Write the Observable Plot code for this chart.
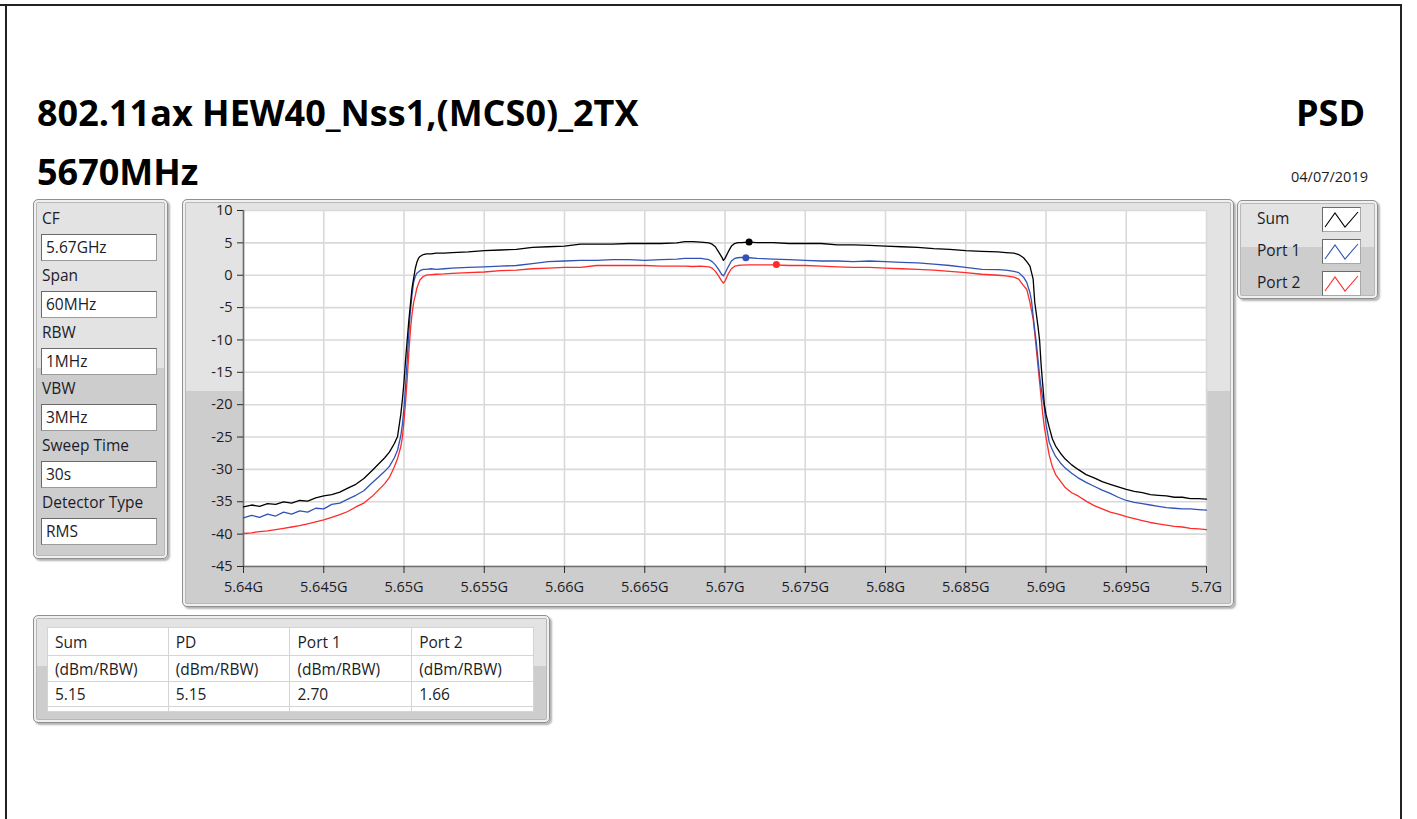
<!DOCTYPE html>
<html><head><meta charset="utf-8">
<script src="https://cdn.jsdelivr.net/npm/d3@7"></script>
<script src="https://cdn.jsdelivr.net/npm/@observablehq/plot@0.6"></script>
<style>
body{margin:0;background:#fff;font-family:"Open Sans",sans-serif;}
#page{position:relative;width:1417px;height:819px;overflow:hidden;background:#fff;}
.line{position:absolute;background:#222;}
.ttl{position:absolute;font-weight:700;font-size:36px;color:#000;line-height:1;white-space:nowrap;}
.panel{position:absolute;box-sizing:border-box;border:1px solid #8f8f8f;border-radius:5px;
 background:linear-gradient(to bottom,#e3e3e3 0,#e3e3e3 47%,#cdcdcd 47%,#cdcdcd 100%);
 box-shadow:2px 2px 2px rgba(0,0,0,0.30), inset 0 0 0 2px #f0f0f0, inset 0 0 0 3px #b8b8b8;}
.lbl{position:absolute;font-size:15.5px;color:#1c1c28;line-height:1;white-space:nowrap;}
.box{position:absolute;box-sizing:border-box;background:#fff;border:1px solid #9a9a9a;border-top-color:#6a6a6a;border-left-color:#6a6a6a;font-size:15.5px;color:#1c1c28;padding-left:4px;line-height:24px;white-space:nowrap;}
table{position:absolute;border-collapse:collapse;background:#fff;font-size:15.5px;color:#1c1c28;}
td{border:1px solid #d4d4d4;padding:0 0 0 7px;white-space:nowrap;}
</style></head>
<body><div id="page"></div>
<script>
// ---- data ----
const freqMHz = [5640,5640.5,5641,5641.5,5642,5642.5,5643,5643.5,5644,5644.5,5645,5645.5,5646,5646.5,5647,5647.5,5648,
 5648.4,5648.8,5649.1,5649.4,5649.6,5649.8,5649.9,
 5650.0,5650.1,5650.2,5650.3,5650.4,5650.5,5650.6,5650.7,5650.8,5650.9,
 5651.0,5651.2,5651.4,5651.7,5652.0,5652.5,
 5653,5654,5655,5656,5657,5658,5659,5660,5661,5662,5663,5664,5665,5666,5667,
 5667.5,5668,5668.5,5669,
 5669.2,5669.4,5669.6,5669.8,5669.9,
 5670.0,5670.2,5670.4,5670.6,5670.8,
 5671.0,5671.5,5672,
 5673,5674,5675,5676,5677,5678,5679,5680,5681,5682,5683,5684,5685,5686,5687,
 5687.5,5688,5688.3,5688.6,5688.8,
 5689.0,5689.1,5689.2,5689.3,5689.4,5689.5,5689.6,5689.7,5689.8,5689.9,
 5690.0,5690.2,5690.4,5690.6,5690.9,5691.2,5691.6,
 5692,5692.5,5693,5693.5,5694,5694.5,5695,5695.5,5696,5696.5,5697,5697.5,5698,5698.5,5699,5699.5,5700];
const sumDb = [-35.8,-35.5,-35.7,-35.3,-35.4,-35.0,-35.2,-34.8,-34.9,-34.4,-34.1,-33.9,-33.5,-32.9,-32.3,-31.4,-30.2,
 -29.2,-28.2,-27.3,-26.0,-24.9,-21.5,-19.2,
 -16.5,-13,-10,-7,-4.5,-2.0,-0.5,1.0,2.0,2.6,
 2.9,3.2,3.3,3.3,3.4,3.4,
 3.5,3.6,3.8,3.9,4.0,4.3,4.4,4.5,4.8,4.8,4.8,4.9,4.9,4.9,5.0,
 5.2,5.2,5.1,5.0,
 4.8,4.4,3.6,2.8,2.3,
 2.6,3.6,4.5,4.9,5.05,
 5.05,5.1,5.05,
 5.05,4.9,4.9,4.9,4.7,4.7,4.6,4.5,4.4,4.3,4.1,4.0,3.8,3.7,3.6,
 3.5,3.4,3.2,2.7,2.1,
 1.4,0.4,-0.6,-4.2,-6.0,-7.9,-10,-14,-17,-20,
 -21.5,-23.5,-25.3,-26.4,-27.5,-28.4,-29.3,
 -30.0,-30.8,-31.3,-31.9,-32.3,-32.7,-33.1,-33.4,-33.6,-33.9,-34.0,-34.1,-34.3,-34.3,-34.5,-34.5,-34.6];
const port1Db = [-37.5,-37.1,-37.4,-36.9,-37.2,-36.6,-36.9,-36.4,-36.6,-36.0,-36.1,-35.4,-35.2,-34.6,-34.0,-33.3,-32.1,
 -31.2,-30.3,-29.5,-28.2,-27.0,-24.8,-23.0,
 -20.5,-17,-13,-9,-5.5,-3,-1.1,-0.2,0.3,0.5,
 0.7,0.9,0.9,1.0,0.9,1.0,
 1.1,1.2,1.3,1.4,1.5,1.8,2.1,2.2,2.3,2.3,2.4,2.4,2.3,2.4,2.5,
 2.6,2.6,2.6,2.4,
 2.1,1.6,0.9,0.1,-0.1,
 0.3,1.3,2.2,2.6,2.7,
 2.75,2.7,2.6,
 2.5,2.4,2.3,2.2,2.2,2.1,2.2,2.1,2.0,1.9,1.7,1.5,1.2,0.9,0.85,
 0.8,0.6,0.4,-0.3,-1.1,
 -2.7,-4.0,-6.3,-8.5,-10.5,-13,-15.5,-17.5,-19.0,-20.5,
 -23.0,-25.8,-27.0,-28.0,-29.0,-29.8,-30.6,
 -31.3,-32.0,-32.6,-33.2,-33.7,-34.3,-34.8,-35.1,-35.3,-35.5,-35.7,-35.9,-36.0,-36.1,-36.1,-36.2,-36.3];
const port2Db = [-39.9,-39.8,-39.6,-39.5,-39.3,-39.1,-38.9,-38.7,-38.4,-38.1,-37.8,-37.4,-37.0,-36.5,-35.8,-35.2,-34.2,
 -33.2,-32.2,-31.2,-29.6,-28.3,-26.5,-25.0,
 -22.5,-19.5,-16,-12,-8.5,-6,-4.2,-3.2,-2.0,-1.3,
 -0.7,-0.2,0.0,0.1,0.15,0.2,
 0.3,0.4,0.5,0.7,0.8,1.0,1.1,1.2,1.2,1.5,1.5,1.5,1.5,1.4,1.4,
 1.4,1.35,1.4,1.3,
 1.1,0.6,-0.1,-0.9,-1.2,
 -0.9,0.2,1.0,1.4,1.5,
 1.55,1.6,1.6,
 1.6,1.5,1.5,1.4,1.3,1.2,1.2,1.1,1.0,0.9,0.8,0.6,0.4,0.15,0.0,
 -0.1,-0.3,-0.6,-1.6,-2.2,
 -4.2,-5.5,-6.8,-9,-11.5,-14,-16.5,-19,-21.5,-23.5,
 -25.0,-27.8,-29.6,-30.8,-31.8,-32.8,-33.6,
 -34.1,-34.9,-35.6,-36.1,-36.6,-36.9,-37.3,-37.6,-37.9,-38.2,-38.4,-38.6,-38.8,-38.9,-39.1,-39.2,-39.3];
const seriesNames = ["Sum","Port 1","Port 2"];
const seriesColors = ["#000000","#3153b6","#ff2a2a"];
const markerFreq = [5671.5,5671.3,5673.2];
const markerDb = [5.15,2.70,1.66];
const xTicks = [5640,5645,5650,5655,5660,5665,5670,5675,5680,5685,5690,5695,5700];
const xTickLabels = ["5.64G","5.645G","5.65G","5.655G","5.66G","5.665G","5.67G","5.675G","5.68G","5.685G","5.69G","5.695G","5.7G"];
const yTicks = [10,5,0,-5,-10,-15,-20,-25,-30,-35,-40,-45];
const paramLabels = ["CF","Span","RBW","VBW","Sweep Time","Detector Type"];
const paramValues = ["5.67GHz","60MHz","1MHz","3MHz","30s","RMS"];
const tableHeaders = ["Sum","PD","Port 1","Port 2"];
const tableUnits = ["(dBm/RBW)","(dBm/RBW)","(dBm/RBW)","(dBm/RBW)"];
const tableValues = ["5.15","5.15","2.70","1.66"];
const titleLine1 = "802.11ax HEW40_Nss1,(MCS0)_2TX";
const titleLine2 = "5670MHz";
const rightTitle = "PSD";
const dateText = "04/07/2019";

// ---- page ----
const page = document.getElementById("page");
function el(tag, cls, style, html){const e=document.createElement(tag); if(cls) e.className=cls; if(style) e.style.cssText=style; if(html!=null) e.innerHTML=html; page.appendChild(e); return e;}
el("div","line","left:0;top:4px;width:1402px;height:2px;");
el("div","line","left:5px;top:4px;width:2px;height:815px;");
el("div","line","left:1400px;top:4px;width:2px;height:815px;");
el("div","ttl","left:37px;top:95px;",titleLine1);
el("div","ttl","left:37px;top:154px;",titleLine2);
el("div","ttl","left:1296px;top:95px;",rightTitle);
el("div","lbl","left:1291px;top:170px;font-size:14.5px;",dateText);

// left parameter panel
el("div","panel","left:33px;top:199px;width:135px;height:360px;");
paramLabels.forEach((l,i)=>{
  const y = 199 + 20 + i*56.8;
  el("div","lbl",`left:42px;top:${y-8}px;`,l);
  el("div","box",`left:41px;top:${y+15}px;width:116px;height:27px;`,paramValues[i]);
});

// chart panel
el("div","panel","left:182px;top:199px;width:1052px;height:408px;");
const rows = [];
freqMHz.forEach((f,i)=>{ rows.push({f, v: port2Db[i], s: "Port 2"}); });
freqMHz.forEach((f,i)=>{ rows.push({f, v: port1Db[i], s: "Port 1"}); });
freqMHz.forEach((f,i)=>{ rows.push({f, v: sumDb[i], s: "Sum"}); });
const markers = markerFreq.map((f,i)=>({f, v: markerDb[i], s: seriesNames[i]}));
const xLab = new Map(xTicks.map((t,i)=>[t, xTickLabels[i]]));
const chart = Plot.plot({
  width: 1052, height: 407,
  marginTop: 11, marginLeft: 61, marginRight: 28, marginBottom: 40,
  style: {background: "transparent", fontFamily: "Open Sans", fontSize: "14px", color: "#1c1c28", overflow: "visible"},
  x: {domain: [5640, 5700], label: null},
  y: {domain: [-45, 10], label: null},
  color: {domain: seriesNames, range: seriesColors},
  marks: [
    Plot.frame({fill: "#ffffff", stroke: null}),
    Plot.gridX(xTicks, {stroke: "#d9d9d9", strokeOpacity: 1, strokeWidth: 1.6}),
    Plot.gridY(yTicks, {stroke: "#d9d9d9", strokeOpacity: 1, strokeWidth: 1.6}),
    Plot.ruleX([5640], {stroke: "#6e6e6e", strokeWidth: 1.6}),
    Plot.ruleY([-45], {stroke: "#6e6e6e", strokeWidth: 1.6}),
    Plot.axisY(yTicks, {tickSize: 6, tickPadding: 5, fontSize: 14.5, stroke: "#2a2a2a", tickFormat: d => String(d), label: null}),
    Plot.axisX(xTicks, {tickSize: 7, tickPadding: 8, fontSize: 14.5, stroke: "#2a2a2a", tickFormat: d => xLab.get(d), label: null}),
    Plot.line(rows, {x: "f", y: "v", z: "s", stroke: "s", strokeWidth: 1.3}),
    Plot.dot(markers, {x: "f", y: "v", fill: "s", r: 3.5})
  ]
});
chart.style.position = "absolute";
chart.style.left = "182px";
chart.style.top = "199px";
page.appendChild(chart);

// legend panel
el("div","panel","left:1237px;top:200px;width:141px;height:99px;");
seriesNames.forEach((n,i)=>{
  const y = 219 + i*32;
  el("div","lbl",`left:1257px;top:${y-8}px;`,n);
  el("div","", `position:absolute;left:1322px;top:${y-12}px;width:39px;height:25px;box-sizing:border-box;background:#fff;border:1px solid #a8a8a8;border-top-color:#6a6a6a;border-left-color:#6a6a6a;`,
    `<svg width="37" height="23" style="display:block"><polyline points="2,19 12,5 22,19 35,4" fill="none" stroke="${seriesColors[i]}" stroke-width="1.1"/></svg>`);
});

// results table panel
el("div","panel","left:33px;top:615px;width:517px;height:108px;");
const tbl = el("table","","left:47px;top:627px;width:487px;");
let h = "<colgroup><col style='width:121px'><col style='width:122px'><col style='width:122px'><col style='width:122px'></colgroup>";
h += "<tr style='height:28px'>" + tableHeaders.map(t=>`<td>${t}</td>`).join("") + "</tr>";
h += "<tr style='height:26px'>" + tableUnits.map(t=>`<td>${t}</td>`).join("") + "</tr>";
h += "<tr style='height:25px'>" + tableValues.map(t=>`<td>${t}</td>`).join("") + "</tr>";
h += "<tr style='height:5px'>" + tableValues.map(()=>`<td></td>`).join("") + "</tr>";
tbl.innerHTML = h;
</script>
</body></html>
